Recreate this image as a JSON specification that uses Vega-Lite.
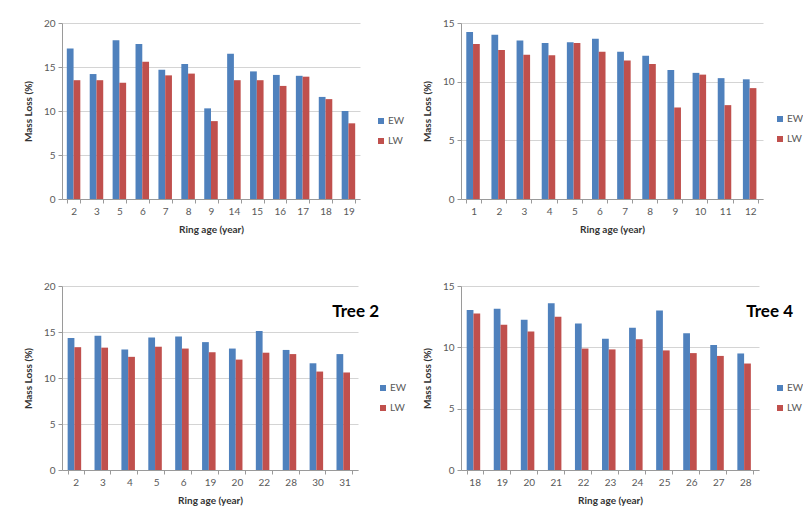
{
  "$schema": "https://vega.github.io/schema/vega-lite/v6.json",
  "background": "white",
  "padding": {"left": 23, "top": 18, "right": 5, "bottom": 5},
  "datasets": {
    "t1": [
      {"age": 2, "wood": "EW", "loss": 17.1}, {"age": 2, "wood": "LW", "loss": 13.5},
      {"age": 3, "wood": "EW", "loss": 14.2}, {"age": 3, "wood": "LW", "loss": 13.5},
      {"age": 5, "wood": "EW", "loss": 18.05}, {"age": 5, "wood": "LW", "loss": 13.2},
      {"age": 6, "wood": "EW", "loss": 17.6}, {"age": 6, "wood": "LW", "loss": 15.6},
      {"age": 7, "wood": "EW", "loss": 14.7}, {"age": 7, "wood": "LW", "loss": 14.05},
      {"age": 8, "wood": "EW", "loss": 15.35}, {"age": 8, "wood": "LW", "loss": 14.25},
      {"age": 9, "wood": "EW", "loss": 10.3}, {"age": 9, "wood": "LW", "loss": 8.85},
      {"age": 14, "wood": "EW", "loss": 16.5}, {"age": 14, "wood": "LW", "loss": 13.5},
      {"age": 15, "wood": "EW", "loss": 14.5}, {"age": 15, "wood": "LW", "loss": 13.5},
      {"age": 16, "wood": "EW", "loss": 14.1}, {"age": 16, "wood": "LW", "loss": 12.85},
      {"age": 17, "wood": "EW", "loss": 14.0}, {"age": 17, "wood": "LW", "loss": 13.9},
      {"age": 18, "wood": "EW", "loss": 11.6}, {"age": 18, "wood": "LW", "loss": 11.35},
      {"age": 19, "wood": "EW", "loss": 10.0}, {"age": 19, "wood": "LW", "loss": 8.6}
    ],
    "t2": [
      {"age": 1, "wood": "EW", "loss": 14.23}, {"age": 1, "wood": "LW", "loss": 13.2},
      {"age": 2, "wood": "EW", "loss": 14.0}, {"age": 2, "wood": "LW", "loss": 12.7},
      {"age": 3, "wood": "EW", "loss": 13.5}, {"age": 3, "wood": "LW", "loss": 12.3},
      {"age": 4, "wood": "EW", "loss": 13.3}, {"age": 4, "wood": "LW", "loss": 12.25},
      {"age": 5, "wood": "EW", "loss": 13.35}, {"age": 5, "wood": "LW", "loss": 13.3},
      {"age": 6, "wood": "EW", "loss": 13.65}, {"age": 6, "wood": "LW", "loss": 12.55},
      {"age": 7, "wood": "EW", "loss": 12.55}, {"age": 7, "wood": "LW", "loss": 11.8},
      {"age": 8, "wood": "EW", "loss": 12.2}, {"age": 8, "wood": "LW", "loss": 11.5},
      {"age": 9, "wood": "EW", "loss": 11.0}, {"age": 9, "wood": "LW", "loss": 7.8},
      {"age": 10, "wood": "EW", "loss": 10.75}, {"age": 10, "wood": "LW", "loss": 10.6},
      {"age": 11, "wood": "EW", "loss": 10.3}, {"age": 11, "wood": "LW", "loss": 8.0},
      {"age": 12, "wood": "EW", "loss": 10.2}, {"age": 12, "wood": "LW", "loss": 9.45}
    ],
    "t3": [
      {"age": 2, "wood": "EW", "loss": 14.35}, {"age": 2, "wood": "LW", "loss": 13.35},
      {"age": 3, "wood": "EW", "loss": 14.6}, {"age": 3, "wood": "LW", "loss": 13.3},
      {"age": 4, "wood": "EW", "loss": 13.1}, {"age": 4, "wood": "LW", "loss": 12.3},
      {"age": 5, "wood": "EW", "loss": 14.4}, {"age": 5, "wood": "LW", "loss": 13.4},
      {"age": 6, "wood": "EW", "loss": 14.5}, {"age": 6, "wood": "LW", "loss": 13.2},
      {"age": 19, "wood": "EW", "loss": 13.9}, {"age": 19, "wood": "LW", "loss": 12.8},
      {"age": 20, "wood": "EW", "loss": 13.2}, {"age": 20, "wood": "LW", "loss": 12.0},
      {"age": 22, "wood": "EW", "loss": 15.1}, {"age": 22, "wood": "LW", "loss": 12.75},
      {"age": 28, "wood": "EW", "loss": 13.05}, {"age": 28, "wood": "LW", "loss": 12.6},
      {"age": 30, "wood": "EW", "loss": 11.6}, {"age": 30, "wood": "LW", "loss": 10.7},
      {"age": 31, "wood": "EW", "loss": 12.6}, {"age": 31, "wood": "LW", "loss": 10.6}
    ],
    "t4": [
      {"age": 18, "wood": "EW", "loss": 13.05}, {"age": 18, "wood": "LW", "loss": 12.75},
      {"age": 19, "wood": "EW", "loss": 13.15}, {"age": 19, "wood": "LW", "loss": 11.85},
      {"age": 20, "wood": "EW", "loss": 12.25}, {"age": 20, "wood": "LW", "loss": 11.3},
      {"age": 21, "wood": "EW", "loss": 13.6}, {"age": 21, "wood": "LW", "loss": 12.5},
      {"age": 22, "wood": "EW", "loss": 11.95}, {"age": 22, "wood": "LW", "loss": 9.9},
      {"age": 23, "wood": "EW", "loss": 10.7}, {"age": 23, "wood": "LW", "loss": 9.83},
      {"age": 24, "wood": "EW", "loss": 11.6}, {"age": 24, "wood": "LW", "loss": 10.65},
      {"age": 25, "wood": "EW", "loss": 13.0}, {"age": 25, "wood": "LW", "loss": 9.75},
      {"age": 26, "wood": "EW", "loss": 11.15}, {"age": 26, "wood": "LW", "loss": 9.53},
      {"age": 27, "wood": "EW", "loss": 10.2}, {"age": 27, "wood": "LW", "loss": 9.3},
      {"age": 28, "wood": "EW", "loss": 9.5}, {"age": 28, "wood": "LW", "loss": 8.68}
    ]
  },
  "bounds": "flush",
  "columns": 2,
  "spacing": {"row": 87, "column": 101},
  "concat": [
    {
      "width": 298, "height": 176,
      "data": {"name": "t1"},
      "mark": {"type": "bar"},
      "encoding": {
        "x": {"field": "age", "type": "ordinal", "title": "Ring age (year)", "scale": {"paddingInner": 0.41, "paddingOuter": 0.21}},
        "xOffset": {"field": "wood", "type": "nominal", "scale": {"domain": ["EW", "LW"]}},
        "y": {"field": "loss", "type": "quantitative", "title": "Mass Loss (%)", "scale": {"domain": [0, 20]}, "axis": {"values": [0, 5, 10, 15, 20]}},
        "color": {"field": "wood", "type": "nominal", "scale": {"domain": ["EW", "LW"], "range": ["#4F81BD", "#C0504D"]}, "legend": {"legendX": 314, "legendY": 93}}
      }
    },
    {
      "width": 302, "height": 176,
      "data": {"name": "t2"},
      "mark": {"type": "bar"},
      "encoding": {
        "x": {"field": "age", "type": "ordinal", "title": "Ring age (year)", "scale": {"paddingInner": 0.41, "paddingOuter": 0.21}},
        "xOffset": {"field": "wood", "type": "nominal", "scale": {"domain": ["EW", "LW"]}},
        "y": {"field": "loss", "type": "quantitative", "title": "Mass Loss (%)", "scale": {"domain": [0, 15]}, "axis": {"values": [0, 5, 10, 15]}},
        "color": {"field": "wood", "type": "nominal", "scale": {"domain": ["EW", "LW"], "range": ["#4F81BD", "#C0504D"]}, "legend": {"legendX": 314, "legendY": 91}}
      }
    },
    {
      "width": 296, "height": 184,
      "data": {"name": "t3"},
      "title": {"text": "Tree 2", "anchor": "end", "frame": "group", "dx": 21, "dy": 44},
      "mark": {"type": "bar"},
      "encoding": {
        "x": {"field": "age", "type": "ordinal", "title": "Ring  age (year)", "scale": {"paddingInner": 0.41, "paddingOuter": 0.21}},
        "xOffset": {"field": "wood", "type": "nominal", "scale": {"domain": ["EW", "LW"]}},
        "y": {"field": "loss", "type": "quantitative", "title": "Mass Loss (%)", "scale": {"domain": [0, 20]}, "axis": {"values": [0, 5, 10, 15, 20]}},
        "color": {"field": "wood", "type": "nominal", "scale": {"domain": ["EW", "LW"], "range": ["#4F81BD", "#C0504D"]}, "legend": {"legendX": 316, "legendY": 97}}
      }
    },
    {
      "width": 298, "height": 184,
      "data": {"name": "t4"},
      "title": {"text": "Tree 4", "anchor": "end", "frame": "group", "dx": 34, "dy": 44},
      "mark": {"type": "bar"},
      "encoding": {
        "x": {"field": "age", "type": "ordinal", "title": "Ring age (year)", "scale": {"paddingInner": 0.41, "paddingOuter": 0.21}},
        "xOffset": {"field": "wood", "type": "nominal", "scale": {"domain": ["EW", "LW"]}},
        "y": {"field": "loss", "type": "quantitative", "title": "Mass Loss (%)", "scale": {"domain": [0, 15]}, "axis": {"values": [0, 5, 10, 15]}},
        "color": {"field": "wood", "type": "nominal", "scale": {"domain": ["EW", "LW"], "range": ["#4F81BD", "#C0504D"]}, "legend": {"legendX": 314, "legendY": 97}}
      }
    }
  ],
  "resolve": {"scale": {"color": "independent"}},
  "config": {
    "font": "Lato",
    "view": {"stroke": null},
    "bar": {"stroke": null},
    "axis": {
      "labelFont": "Lato", "labelFontSize": 10, "labelColor": "#595959",
      "titleFont": "Lato", "titleFontSize": 10, "titleFontWeight": "bold", "titleColor": "#333333",
      "domainColor": "#9a9a9a", "tickColor": "#9a9a9a", "gridColor": "#d4d4d4",
      "tickSize": 4, "labelPadding": 3
    },
    "axisX": {"grid": false, "tickBand": "extent", "labelAngle": 0, "titlePadding": 8},
    "axisY": {"grid": true, "titlePadding": 10},
    "legend": {
      "orient": "none", "title": null, "symbolType": "square", "symbolSize": 36,
      "symbolStrokeWidth": 0, "labelFont": "Lato", "labelFontSize": 10, "labelColor": "#595959",
      "rowPadding": 10, "labelOffset": 2
    },
    "title": {"font": "Lato", "fontSize": 17, "fontWeight": "bold", "color": "#000000", "offset": 0}
  }
}
